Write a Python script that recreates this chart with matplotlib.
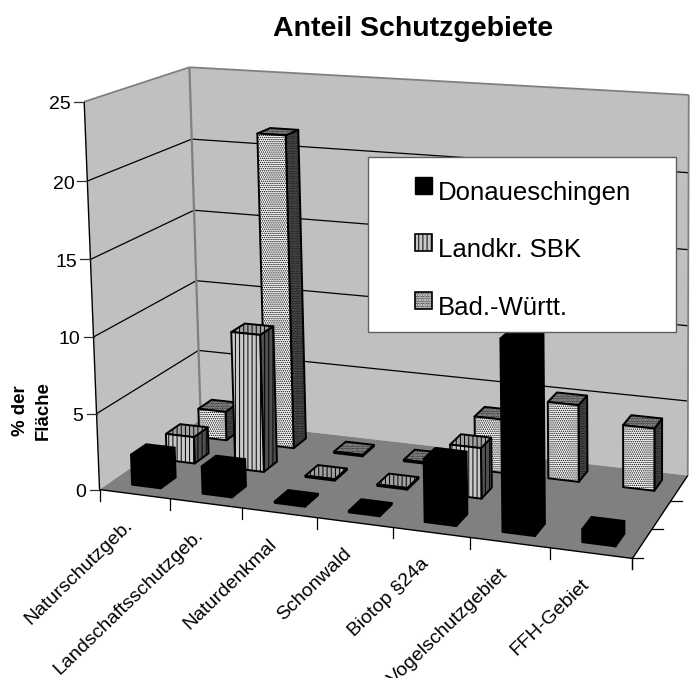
import matplotlib
matplotlib.use("Agg")
import matplotlib.pyplot as plt
from matplotlib.patches import Patch, Polygon, Rectangle
import numpy as np

plt.rcParams['font.family'] = ['Liberation Sans', 'DejaVu Sans']
plt.rcParams['hatch.linewidth'] = 0.7

categories = ["Naturschutzgeb.", "Landschaftsschutzgeb.", "Naturdenkmal", "Schonwald",
              "Biotop §24a", "Vogelschutzgebiet", "FFH-Gebiet"]
series_names = ["Donaueschingen", "Landkr. SBK", "Bad.-Württ."]
donau = [2.0, 1.8, 0.1, 0.1, 4.0, 12.0, 0.8]
landkr = [1.8, 9.2, 0.1, 0.1, 3.3, 0, 0]
bw = [2.0, 21.4, 0.1, 0.1, 3.6, 5.1, 4.1]
value_ticks = [0, 5, 10, 15, 20, 25]

# camera fit: corners of the chart box (cat, series, value) -> picture pixels
box_pts = [(0, 0, 0), (7, 0, 0), (0, 3, 0), (7, 3, 0), (0, 0, 25), (0, 3, 25), (7, 3, 25),
           (0, 0, 5), (0, 3, 5), (0, 0, 10), (0, 0, 15), (0, 0, 20), (0, 3, 20), (0, 3, 15)]
pix_pts = [(100, 488), (633, 559), (200, 420), (688, 475), (84, 101), (190, 66), (688, 95),
           (97, 413), (198, 351), (93, 337), (90, 261), (87, 182), (193, 139), (194, 211)]


def fit_camera(box, pix):
    rows = []
    rhs = []
    for (x, y, z), (u, v) in zip(box, pix):
        rows.append([x, y, z, 1, 0, 0, 0, 0, -u * x, -u * y, -u * z])
        rows.append([0, 0, 0, 0, x, y, z, 1, -v * x, -v * y, -v * z])
        rhs += [u, v]
    sol = np.linalg.lstsq(np.array(rows, float), np.array(rhs, float), rcond=None)[0]
    return np.append(sol, 1).reshape(3, 4)


cam = fit_camera(box_pts, pix_pts)


def pr(x, y, z):
    q = cam @ np.array([x, y, z, 1.0])
    return q[0] / q[2], q[1] / q[2]


def face(ax, corners, fc, hatch=None, hc="k", z=1, lw=1.4, ec="k"):
    pts = [pr(*c) for c in corners]
    ax.add_patch(Polygon(pts, closed=True, fc=fc, ec=hc, hatch=hatch, lw=0, zorder=z))
    ax.add_patch(Polygon(pts, closed=True, fill=False, ec=ec, lw=lw, zorder=z, joinstyle="round"))


def bar(ax, cat, ser, val, st, z):
    x0, x1 = cat + 0.31, cat + 0.72
    y0, y1 = ser + 0.30, ser + 0.73
    face(ax, [(x1, y0, 0), (x1, y1, 0), (x1, y1, val), (x1, y0, val)], st["side"], st["hatch2"], z=z)
    face(ax, [(x0, y0, val), (x1, y0, val), (x1, y1, val), (x0, y1, val)], st["top"], st["hatch2"], z=z)
    face(ax, [(x0, y0, 0), (x1, y0, 0), (x1, y0, val), (x0, y0, val)], st["front"], st["hatch"], z=z)


fig = plt.figure(figsize=(6.92, 6.78), dpi=100)
ax = fig.add_axes([0, 0, 1, 1])
ax.set_xlim(0, 692)
ax.set_ylim(678, 0)
ax.axis("off")

# walls and floor
top = value_ticks[-1]
face(ax, [(0, 0, 0), (0, 3, 0), (0, 3, top), (0, 0, top)], "#c0c0c0", lw=0, z=1)
face(ax, [(0, 3, 0), (7, 3, 0), (7, 3, top), (0, 3, top)], "#c0c0c0", lw=0, z=1)
face(ax, [(0, 0, 0), (7, 0, 0), (7, 3, 0), (0, 3, 0)], "#808080", lw=0, z=2)


def line3(p, q, **kw):
    a, b = pr(*p), pr(*q)
    ax.plot([a[0], b[0]], [a[1], b[1]], solid_capstyle="butt", **kw)


for v in value_ticks[1:-1]:
    line3((0, 0, v), (0, 3, v), color="k", lw=0.9, zorder=1.5)
    line3((0, 3, v), (7, 3, v), color="k", lw=0.9, zorder=1.5)
line3((0, 0, top), (0, 3, top), color="#808080", lw=1.3, zorder=1.6)
line3((0, 3, top), (7, 3, top), color="#808080", lw=1.3, zorder=1.6)
line3((0, 3, 0), (0, 3, top), color="#808080", lw=1.6, zorder=1.6)
line3((7, 3, 0), (7, 3, top), color="#808080", lw=1.3, zorder=1.6)

# axis lines and ticks
line3((0, 0, 0), (0, 0, top), color="k", lw=1.0, zorder=3)
line3((0, 0, 0), (7, 0, 0), color="k", lw=1.0, zorder=3)
line3((7, 0, 0), (7, 3, 0), color="k", lw=1.0, zorder=3)
for v in value_ticks:
    u, w = pr(0, 0, v)
    ax.plot([u - 10, u], [w, w], color="#303030", lw=0.9, zorder=3)
    ax.text(u - 13, w + 3, str(v), ha="right", va="center", fontsize=14, color="k")
for c in range(8):
    u, w = pr(c, 0, 0)
    ax.plot([u, u], [w, w + 11], color="k", lw=0.9, zorder=3)
for s in range(1, 4):
    u, w = pr(7, 3 - s, 0)
    ax.plot([u, u + 11], [w, w], color="k", lw=0.9, zorder=3)
u, w = pr(7, 0, 0)
ax.plot([u, u], [w, w + 11], color="k", lw=0.9, zorder=3)

for c, name in enumerate(categories):
    u, w = pr(c + 0.5, 0, 0)
    ax.text(u - 5, w + 29, name, rotation=44, ha="right", va="center",
            rotation_mode="anchor", fontsize=14, color="k")

solid = {"front": "k", "side": "k", "top": "k", "hatch": None, "hatch2": None}
striped = {"front": "#c8c8c8", "side": "#505050", "top": "#a0a0a0", "hatch": "||||", "hatch2": "||||"}
dotted = {"front": "white", "side": "#606060", "top": "#b0b0b0", "hatch": "........", "hatch2": ".........."}

# painted back to front
for ser, (vals, st) in enumerate([(donau, solid), (landkr, striped), (bw, dotted)]):
    z = 10 - ser
    for c, v in enumerate(vals):
        if v > 0:
            bar(ax, c, ser, v, st, z)

# legend
ax.add_patch(Rectangle((368, 157), 308, 175, fc="white", ec="#606060", lw=1.0, zorder=20))
handles = [Patch(fc="k", ec="k"),
           Patch(fc="#c8c8c8", ec="k", hatch="||||", lw=1.2),
           Patch(fc="white", ec="k", hatch="..........", lw=1.2)]
leg = ax.legend(handles, series_names, loc="upper left", bbox_to_anchor=(415, 181),
                bbox_transform=ax.transData, frameon=False, fontsize=18.5, handlelength=0.66,
                handleheight=0.66, handletextpad=0.22, labelspacing=1.3, borderpad=0, borderaxespad=0)
leg.set_zorder(21)
for h in leg.legend_handles:
    h.set_y(h.get_y() + 4)

fig.text(413 / 692, 1 - 29 / 678, "Anteil Schutzgebiete", ha="center", va="center",
         fontsize=20.5, fontweight="bold", color="k")
ax.text(32, 411, "% der\nFläche", rotation=90, ha="center", va="center", multialignment="center",
        fontsize=13.4, fontweight="bold", color="k", linespacing=1.45)

fig.savefig("out.png", dpi=100, facecolor="white")
